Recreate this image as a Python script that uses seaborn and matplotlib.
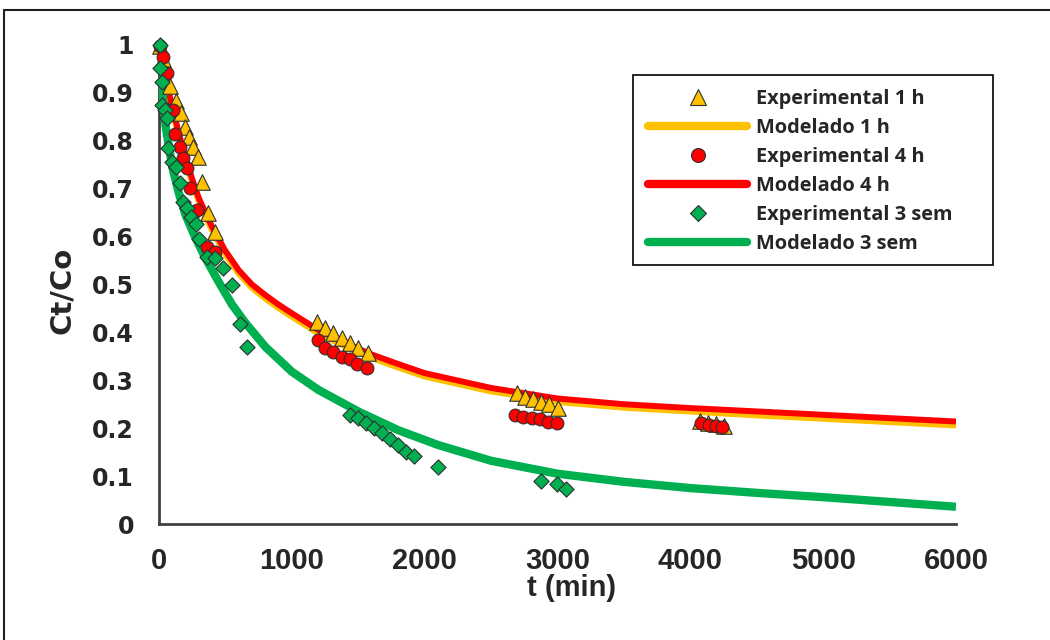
import matplotlib
matplotlib.use("Agg")
import matplotlib.pyplot as plt
import seaborn as sns
from matplotlib.lines import Line2D
from matplotlib.patches import Rectangle
from matplotlib.legend_handler import HandlerLine2D

# ---------------- data ----------------
t_exp_1h = [8, 30, 83, 128, 165, 196, 226, 256, 293, 324, 369, 422,
            1190, 1250, 1310, 1378, 1438, 1498, 1574,
            2696, 2756, 2816, 2877, 2937, 3005,
            4070, 4130, 4190, 4250]
c_exp_1h = [0.998, 0.970, 0.914, 0.883, 0.858, 0.829, 0.808, 0.787, 0.766, 0.714, 0.649, 0.610,
            0.422, 0.409, 0.399, 0.388, 0.378, 0.367, 0.357,
            0.273, 0.265, 0.261, 0.255, 0.251, 0.242,
            0.215, 0.210, 0.208, 0.205]

t_exp_4h = [8, 30, 60, 105, 120, 158, 181, 211, 233, 286, 361, 422,
            1197, 1250, 1310, 1378, 1438, 1491, 1566,
            2681, 2741, 2809, 2869, 2929, 2997,
            4080, 4140, 4190, 4240]
c_exp_4h = [0.998, 0.975, 0.942, 0.864, 0.814, 0.787, 0.765, 0.743, 0.701, 0.656, 0.578, 0.568,
            0.384, 0.367, 0.359, 0.349, 0.344, 0.334, 0.326,
            0.228, 0.223, 0.221, 0.219, 0.213, 0.211,
            0.210, 0.206, 0.205, 0.203]

t_exp_3s = [8, 8, 23, 23, 45, 60, 68, 98, 128, 158, 181, 211, 241, 279, 301,
            361, 422, 482, 550, 610, 663,
            1438, 1498, 1559, 1619, 1679, 1739, 1800, 1860, 1920, 2101,
            2877, 2997, 3065]
c_exp_3s = [1.000, 0.952, 0.923, 0.875, 0.864, 0.848, 0.785, 0.756, 0.745, 0.712, 0.672, 0.660,
            0.641, 0.626, 0.595, 0.557, 0.555, 0.534, 0.499, 0.418, 0.370,
            0.228, 0.221, 0.211, 0.200, 0.190, 0.177, 0.165, 0.150, 0.142, 0.119,
            0.090, 0.084, 0.073]

t_mod_4h = [0, 50, 100, 150, 200, 250, 300, 400, 500, 600, 700, 800, 900, 1000, 1200, 1400,
            1600, 1800, 2000, 2500, 3000, 3500, 4000, 4500, 5000, 5500, 6000]
c_mod_4h = [1.0, 0.93, 0.87, 0.815, 0.765, 0.72, 0.68, 0.62, 0.57, 0.53, 0.50, 0.478, 0.458,
            0.44, 0.405, 0.378, 0.354, 0.334, 0.315, 0.284, 0.262, 0.25, 0.242, 0.235, 0.228,
            0.221, 0.214]

t_mod_1h = t_mod_4h
c_mod_1h = [1.0, 0.926, 0.864, 0.809, 0.758, 0.713, 0.673, 0.613, 0.563, 0.523, 0.493, 0.471,
            0.451, 0.433, 0.398, 0.371, 0.347, 0.327, 0.308, 0.277, 0.255, 0.243, 0.235, 0.227,
            0.220, 0.213, 0.206]

t_mod_3s = [0, 25, 50, 100, 150, 200, 270, 350, 450, 550, 650, 800, 1000, 1200, 1500, 1800,
            2100, 2500, 3000, 3500, 4000, 4500, 5000, 5500, 6000]
c_mod_3s = [1.0, 0.9, 0.83, 0.745, 0.69, 0.645, 0.6, 0.555, 0.505, 0.458, 0.42, 0.37, 0.318,
            0.28, 0.235, 0.196, 0.165, 0.132, 0.105, 0.088, 0.075, 0.065, 0.056, 0.046, 0.036]

x_ticks = [0, 1000, 2000, 3000, 4000, 5000, 6000]
x_tick_labels = ["0", "1000", "2000", "3000", "4000", "5000", "6000"]
y_ticks = [0, 0.1, 0.2, 0.3, 0.4, 0.5, 0.6, 0.7, 0.8, 0.9, 1.0]
y_tick_labels = ["0", "0.1", "0.2", "0.3", "0.4", "0.5", "0.6", "0.7", "0.8", "0.9", "1"]

legend_labels = ["Experimental 1 h", "Modelado 1 h", "Experimental 4 h",
                 "Modelado 4 h", "Experimental 3 sem", "Modelado 3 sem"]
x_label = "t (min)"
y_label = "Ct/Co"

# ---------------- style ----------------
sns.set_style("white")
plt.rcParams["font.family"] = ["DejaVu Sans"]

YEL = "#FFC000"
RED = "#FF0000"
GRN = "#00B050"
EDGE = "#303030"
AXC = "#404040"

W, H = 1050, 640
fig = plt.figure(figsize=(W / 100, H / 100), dpi=100)
fig.patch.set_facecolor("white")


def fx(px):
    return px / W


def fy(py):
    return 1 - py / H


ax = fig.add_axes([fx(159), fy(524), (956 - 159) / W, (524 - 45) / H])
ax.set_facecolor("white")

# model lines
sns.lineplot(x=t_mod_1h, y=c_mod_1h, color=YEL, linewidth=4.5, ax=ax, sort=False,
             estimator=None, zorder=2, solid_capstyle="butt", solid_joinstyle="round")
sns.lineplot(x=t_mod_4h, y=c_mod_4h, color=RED, linewidth=4.3, ax=ax, sort=False,
             estimator=None, zorder=2.1, solid_capstyle="butt", solid_joinstyle="round")
sns.lineplot(x=t_mod_3s, y=c_mod_3s, color=GRN, linewidth=6, ax=ax, sort=False,
             estimator=None, zorder=2.2, solid_capstyle="butt", solid_joinstyle="round")

# experimental markers
sns.scatterplot(x=t_exp_1h, y=c_exp_1h, marker="^", s=125, color=YEL, edgecolor=EDGE,
                linewidth=0.8, ax=ax, zorder=3, clip_on=False)
sns.scatterplot(x=t_exp_4h, y=c_exp_4h, marker="o", s=85, color=RED, edgecolor=EDGE,
                linewidth=0.8, ax=ax, zorder=3.1, clip_on=False)
sns.scatterplot(x=t_exp_3s, y=c_exp_3s, marker="D", s=60, color=GRN, edgecolor=EDGE,
                linewidth=0.8, ax=ax, zorder=3.2, clip_on=False)

ax.set_xlim(0, 6000)
ax.set_ylim(0, 1)

for s in ["top", "right"]:
    ax.spines[s].set_visible(False)
for s in ["left", "bottom"]:
    ax.spines[s].set_linewidth(2)
    ax.spines[s].set_color(AXC)
    ax.spines[s].set_zorder(1)

ax.set_xticks(x_ticks)
ax.set_xticklabels(x_tick_labels, family=["Liberation Sans", "DejaVu Sans"],
                   fontweight="bold", fontsize=21)
ax.set_yticks(y_ticks)
ax.set_yticklabels(y_tick_labels, family=["DejaVu Sans"], fontweight="bold", fontsize=17)
ax.tick_params(axis="x", direction="inout", length=13, width=1.3, color=AXC, pad=10)
ax.tick_params(axis="y", direction="out", length=6, width=1.3, color=AXC, pad=12)
ax.grid(False)

ax.set_xlabel(x_label, family=["Liberation Sans", "DejaVu Sans"], fontweight="bold",
              fontsize=21)
ax.xaxis.set_label_coords((572 - 159) / 797, (524 - 588) / 479)
ax.xaxis.label.set_va("center")
ax.set_ylabel(y_label, family=["DejaVu Sans"], fontweight="bold", fontsize=21)
ax.yaxis.set_label_coords((62 - 159) / 797, (524 - 290) / 479)
ax.yaxis.label.set_va("center")


# legend
class RightMarker(HandlerLine2D):
    def get_xdata(self, legend, xdescent, ydescent, width, height, fontsize):
        return [-xdescent, -xdescent + width], [-xdescent + 0.79 * width]


h_tri = Line2D([], [], marker="^", ls="none", markersize=11, markerfacecolor=YEL,
               markeredgecolor=EDGE, markeredgewidth=0.8)
h_cir = Line2D([], [], marker="o", ls="none", markersize=10, markerfacecolor=RED,
               markeredgecolor=EDGE, markeredgewidth=0.8)
h_dia = Line2D([], [], marker="D", ls="none", markersize=8, markerfacecolor=GRN,
               markeredgecolor=EDGE, markeredgewidth=0.8)
l_yel = Line2D([], [], color=YEL, lw=6, solid_capstyle="round")
l_red = Line2D([], [], color=RED, lw=6, solid_capstyle="round")
l_grn = Line2D([], [], color=GRN, lw=6, solid_capstyle="round")
handles = [h_tri, l_yel, h_cir, l_red, h_dia, l_grn]

leg_px = 20.0
leg = fig.legend(handles, legend_labels, loc="upper left",
                 bbox_to_anchor=(fx(648), fy(89)), bbox_transform=fig.transFigure,
                 frameon=False, borderpad=0, borderaxespad=0,
                 handlelength=99 / leg_px, handletextpad=9 / leg_px, labelspacing=0.45,
                 prop={"family": ["Open Sans", "DejaVu Sans"], "weight": "bold",
                       "size": leg_px * 0.72},
                 handler_map={h_tri: RightMarker(), h_cir: RightMarker(), h_dia: RightMarker()})

fig.add_artist(Rectangle((fx(633), fy(265)), (993 - 633) / W, (265 - 75) / H,
                         transform=fig.transFigure, fill=False, edgecolor="black",
                         linewidth=1.2))

# outer chart border (top and left visible)
fig.add_artist(Line2D([fx(4), 1.0], [fy(10), fy(10)], transform=fig.transFigure,
                      color="#202020", lw=1.5))
fig.add_artist(Line2D([fx(4), fx(4)], [fy(10), 0.0], transform=fig.transFigure,
                      color="#202020", lw=1.5))

fig.savefig("out.png", dpi=100, facecolor="white")
